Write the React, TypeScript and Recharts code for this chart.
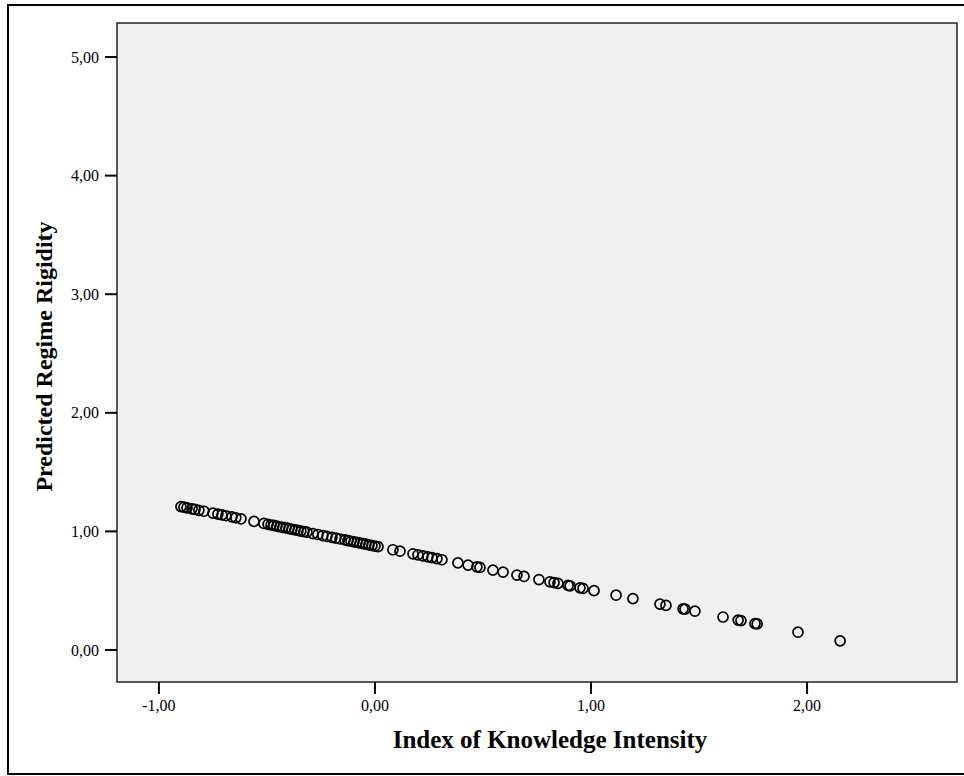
import React from "react";
import {
  ScatterChart,
  Scatter,
  XAxis,
  YAxis,
  ReferenceArea,
  Label,
} from "recharts";

// Index of Knowledge Intensity (x) for each case
const knowledgeIndex = [
  -0.898, -0.884, -0.87, -0.847, -0.833, -0.815, -0.792, -0.75, -0.727, -0.708,
  -0.69, -0.662, -0.644, -0.62, -0.56, -0.514, -0.495, -0.481, -0.468, -0.454,
  -0.44, -0.426, -0.412, -0.398, -0.384, -0.37, -0.356, -0.343, -0.329, -0.315,
  -0.287, -0.264, -0.241, -0.222, -0.199, -0.181, -0.162, -0.139, -0.125, -0.111,
  -0.097, -0.083, -0.069, -0.056, -0.042, -0.028, -0.014, 0.0, 0.014, 0.083,
  0.116, 0.176, 0.199, 0.222, 0.245, 0.264, 0.287, 0.31, 0.384, 0.431,
  0.472, 0.486, 0.546, 0.593, 0.657, 0.69, 0.759, 0.81, 0.829, 0.847,
  0.894, 0.903, 0.949, 0.963, 1.014, 1.116, 1.194, 1.319, 1.347, 1.426,
  1.435, 1.481, 1.611, 1.681, 1.694, 1.759, 1.769, 1.958, 2.153,
];

// Predicted Regime Rigidity (y) for the same cases
const predictedRigidity = [
  1.209, 1.204, 1.199, 1.19, 1.185, 1.178, 1.17, 1.154, 1.146, 1.139,
  1.132, 1.122, 1.115, 1.106, 1.084, 1.067, 1.06, 1.054, 1.05, 1.044,
  1.039, 1.034, 1.029, 1.024, 1.018, 1.013, 1.008, 1.003, 0.998, 0.993,
  0.982, 0.974, 0.965, 0.958, 0.95, 0.943, 0.936, 0.928, 0.922, 0.917,
  0.912, 0.907, 0.902, 0.897, 0.892, 0.886, 0.881, 0.876, 0.871, 0.845,
  0.833, 0.811, 0.802, 0.794, 0.785, 0.778, 0.77, 0.761, 0.734, 0.716,
  0.701, 0.696, 0.673, 0.656, 0.632, 0.62, 0.594, 0.575, 0.568, 0.562,
  0.544, 0.541, 0.524, 0.519, 0.5, 0.462, 0.433, 0.387, 0.376, 0.347,
  0.344, 0.327, 0.278, 0.252, 0.248, 0.223, 0.22, 0.15, 0.077,
];

const xTicks = [-1, 0, 1, 2];
const yTicks = [0, 1, 2, 3, 4, 5];

const xDomain: [number, number] = [-1.194, 2.694];
const yDomain: [number, number] = [-0.27, 5.287];

const points = knowledgeIndex.map((x, i) => ({ x, y: predictedRigidity[i] }));

const serif = '"Liberation Serif", "Times New Roman", serif';
const fmt = (v: number) => v.toFixed(2).replace(".", ",");

const tickStyle = { fill: "#000", fontSize: 16, fontFamily: serif };

const OpenCircle = (props: any) => (
  <circle
    cx={props.cx}
    cy={props.cy}
    r={5}
    fill="none"
    stroke="#000"
    strokeWidth={1.7}
  />
);

const XTitle = ({ viewBox }: any) => (
  <text
    x={viewBox.x + viewBox.width / 2 + 13}
    y={748}
    textAnchor="middle"
    fontFamily={serif}
    fontWeight="bold"
    fontSize={25}
    fill="#000"
  >
    Index of Knowledge Intensity
  </text>
);

const YTitle = ({ viewBox }: any) => {
  const cx = 52;
  const cy = viewBox.y + viewBox.height / 2 + 4;
  return (
    <text
      x={cx}
      y={cy}
      transform={`rotate(-90 ${cx} ${cy})`}
      textAnchor="middle"
      fontFamily={serif}
      fontWeight="bold"
      fontSize={24}
      fill="#000"
    >
      Predicted Regime Rigidity
    </text>
  );
};

export default function App() {
  return (
    <div
      style={{
        position: "absolute",
        left: 0,
        top: 0,
        width: 964,
        height: 776,
        overflow: "hidden",
      }}
    >
      <div
        style={{
          position: "absolute",
          left: 7,
          top: 4,
          width: 970,
          height: 771,
          boxSizing: "border-box",
          border: "2px solid #000",
        }}
      />
      <ScatterChart
        width={964}
        height={776}
        margin={{ top: 23, right: 7, bottom: 54, left: 57 }}
        style={{ position: "absolute", left: 0, top: 0 }}
      >
        <ReferenceArea
          x1={xDomain[0]}
          x2={xDomain[1]}
          y1={yDomain[0]}
          y2={yDomain[1]}
          fill="#f0f0f0"
          fillOpacity={1}
          stroke="#222"
          strokeWidth={1.5}
          ifOverflow="extendDomain"
        />
        <XAxis
          type="number"
          dataKey="x"
          domain={xDomain}
          ticks={xTicks}
          allowDataOverflow
          height={40}
          axisLine={false}
          tickSize={12}
          tickMargin={6}
          tickLine={{ stroke: "#000", strokeWidth: 2 }}
          tick={tickStyle}
          tickFormatter={fmt}
        >
          <Label content={<XTitle />} />
        </XAxis>
        <YAxis
          type="number"
          dataKey="y"
          domain={yDomain}
          ticks={yTicks}
          allowDataOverflow
          width={60}
          axisLine={false}
          tickSize={12}
          tickMargin={6}
          tickLine={{ stroke: "#000", strokeWidth: 2 }}
          tick={tickStyle}
          tickFormatter={fmt}
        >
          <Label content={<YTitle />} />
        </YAxis>
        <Scatter data={points} shape={<OpenCircle />} isAnimationActive={false} />
      </ScatterChart>
    </div>
  );
}
